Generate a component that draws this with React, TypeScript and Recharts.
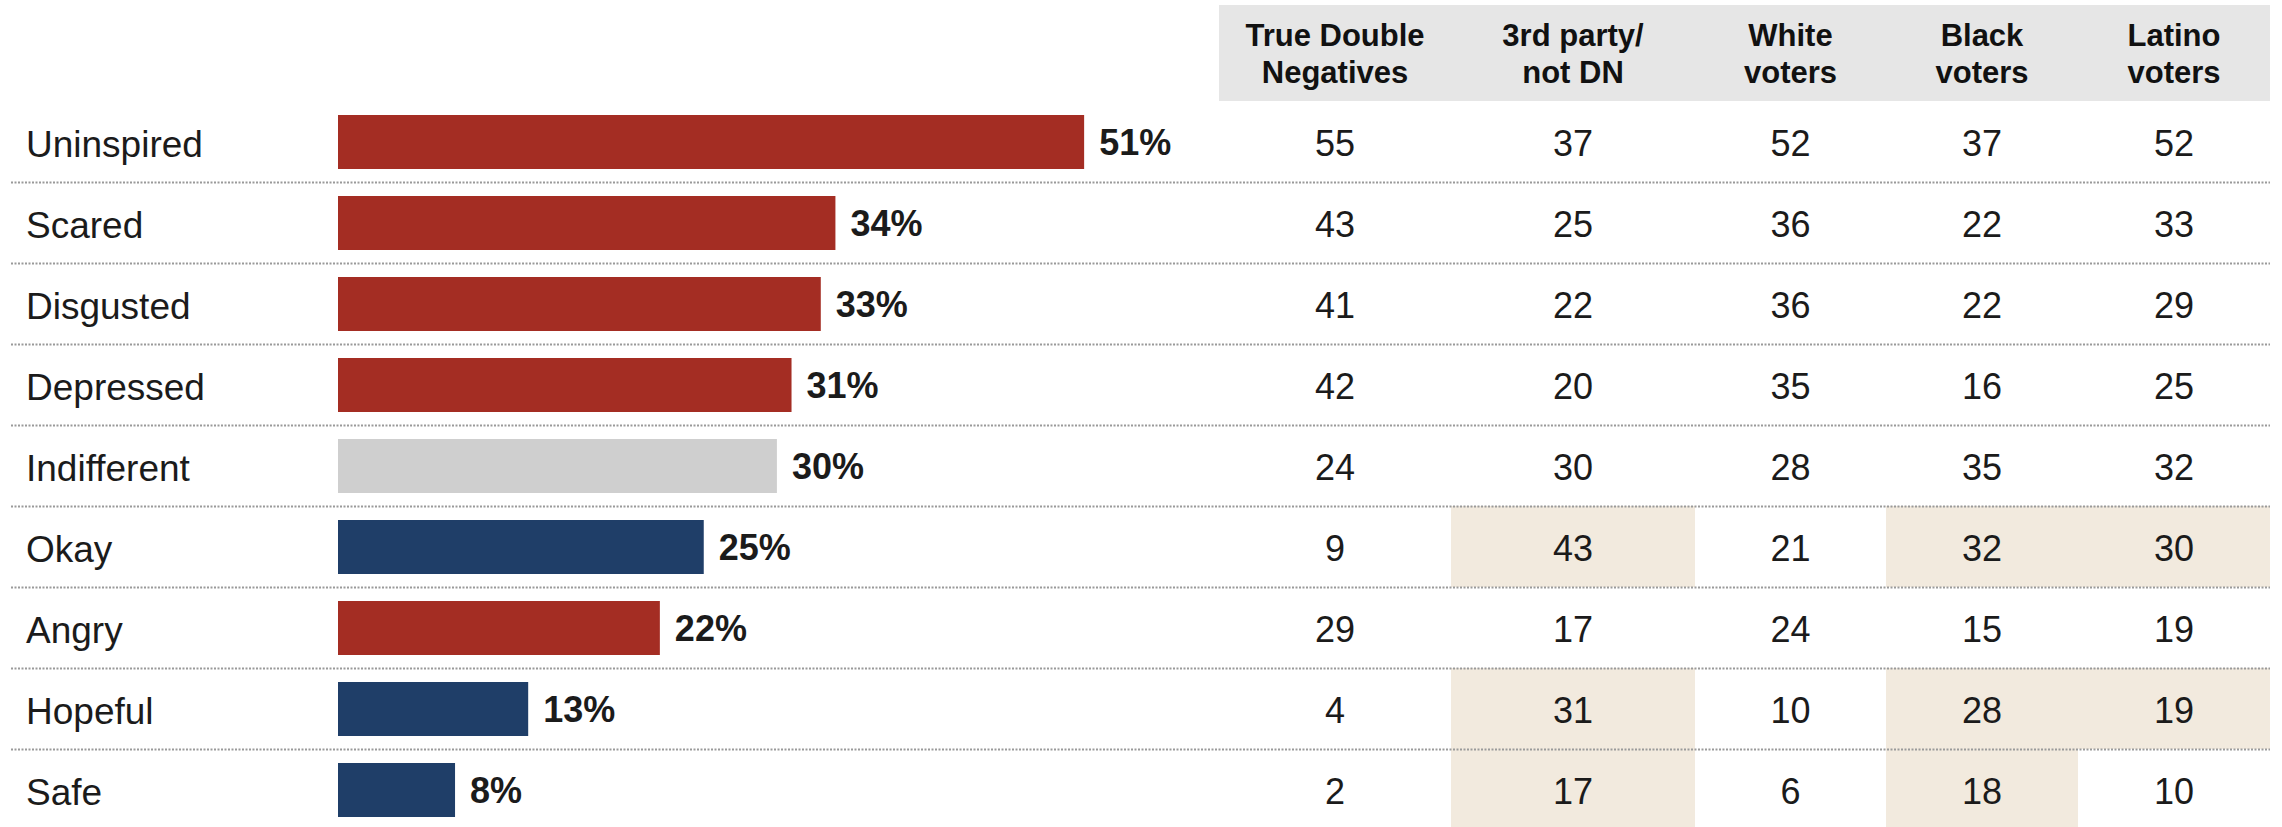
import React from 'react';
import { ComposedChart, Bar, XAxis, YAxis, Cell, LabelList, Customized } from 'recharts';

// rows, top to bottom
const emotions = ['Uninspired', 'Scared', 'Disgusted', 'Depressed', 'Indifferent', 'Okay', 'Angry', 'Hopeful', 'Safe'];
const totals = [51, 34, 33, 31, 30, 25, 22, 13, 8];
const tones = ['neg', 'neg', 'neg', 'neg', 'neutral', 'pos', 'neg', 'pos', 'pos'];

// table columns
const columnHeaders = [
  ['True Double', 'Negatives'],
  ['3rd party/', 'not DN'],
  ['White', 'voters'],
  ['Black', 'voters'],
  ['Latino', 'voters'],
];
const trueDoubleNegatives = [55, 43, 41, 42, 24, 9, 29, 4, 2];
const thirdPartyNotDN = [37, 25, 22, 20, 30, 43, 17, 31, 17];
const whiteVoters = [52, 36, 36, 35, 28, 21, 24, 10, 6];
const blackVoters = [37, 22, 22, 16, 35, 32, 15, 28, 18];
const latinoVoters = [52, 33, 29, 25, 32, 30, 19, 19, 10];
// shaded cells (column index) per row
const highlighted: number[][] = [[], [], [], [], [], [1, 3, 4], [], [1, 3, 4], [1, 3]];

const toneColor: Record<string, string> = {
  neg: '#A42D23',
  neutral: '#CFCFCF',
  pos: '#1F3E68',
};

const rows = emotions.map((name, i) => ({
  name,
  total: totals[i],
  tone: tones[i],
  cells: [trueDoubleNegatives[i], thirdPartyNotDN[i], whiteVoters[i], blackVoters[i], latinoVoters[i]],
  hl: highlighted[i],
}));

const W = 2282;
const H = 830;
const MARGIN = { top: 101, right: 481, bottom: 0, left: 0 };
const BAND = (H - MARGIN.top - MARGIN.bottom) / rows.length;
const COL_EDGES = [1219, 1451, 1695, 1886, 2078, 2270];
const FONT = '"Liberation Sans", Arial, Helvetica, sans-serif';
const TEXT = '#1b1b1b';

const colCenter = (c: number) => (COL_EDGES[c] + COL_EDGES[c + 1]) / 2;

const RowTick = (props: any) => {
  const { y, index } = props;
  const row = rows[index];
  if (!row) return null;
  const top = y - BAND / 2;
  return (
    <g>
      {row.hl.map((c) => (
        <rect
          key={`hl-${c}`}
          x={COL_EDGES[c]}
          y={top}
          width={COL_EDGES[c + 1] - COL_EDGES[c]}
          height={BAND}
          fill="#F2EADE"
        />
      ))}
      {index > 0 && (
        <line x1={11} x2={2270} y1={top + 0.5} y2={top + 0.5} stroke="#9a9a9a" strokeWidth={2} strokeDasharray="2 1.5" />
      )}
      <text x={26} y={y + 15} fontSize={37} fontFamily={FONT} fill={TEXT}>
        {row.name}
      </text>
      {row.cells.map((v, c) => (
        <text key={c} x={colCenter(c)} y={y + 14.5} fontSize={36} fontFamily={FONT} fill={TEXT} textAnchor="middle">
          {v}
        </text>
      ))}
    </g>
  );
};

const HeaderRow = () => (
  <g>
    <rect x={COL_EDGES[0]} y={5} width={COL_EDGES[5] - COL_EDGES[0]} height={96} fill="#E6E6E6" />
    {columnHeaders.map((lines, c) => (
      <text key={c} x={colCenter(c)} textAnchor="middle" fontSize={31} fontWeight="bold" fontFamily={FONT} fill="#111">
        <tspan x={colCenter(c)} y={46}>{lines[0]}</tspan>
        <tspan x={colCenter(c)} y={83}>{lines[1]}</tspan>
      </text>
    ))}
  </g>
);

const ValueLabel = (props: any) => {
  const { x, y, width, height, value } = props;
  return (
    <text x={x + width + 15} y={y + height / 2 + 13} fontSize={36} fontWeight="bold" fontFamily={FONT} fill={TEXT}>
      {value}%
    </text>
  );
};

export default function App() {
  return (
    <div style={{ position: 'absolute', left: 0, top: 0, width: W, height: 827, overflow: 'hidden', background: '#fff' }}>
      <ComposedChart width={W} height={H} data={rows} layout="vertical" margin={MARGIN}>
        <Customized component={HeaderRow} />
        <XAxis xAxisId="bar" type="number" domain={[0, 100]} hide />
        <YAxis
          type="category"
          dataKey="name"
          width={338}
          axisLine={false}
          tickLine={false}
          interval={0}
          tick={RowTick}
        />
        <Bar dataKey="total" xAxisId="bar" barSize={54} isAnimationActive={false}>
          {rows.map((r) => (
            <Cell key={r.name} fill={toneColor[r.tone]} />
          ))}
          <LabelList dataKey="total" content={ValueLabel} />
        </Bar>
      </ComposedChart>
    </div>
  );
}
